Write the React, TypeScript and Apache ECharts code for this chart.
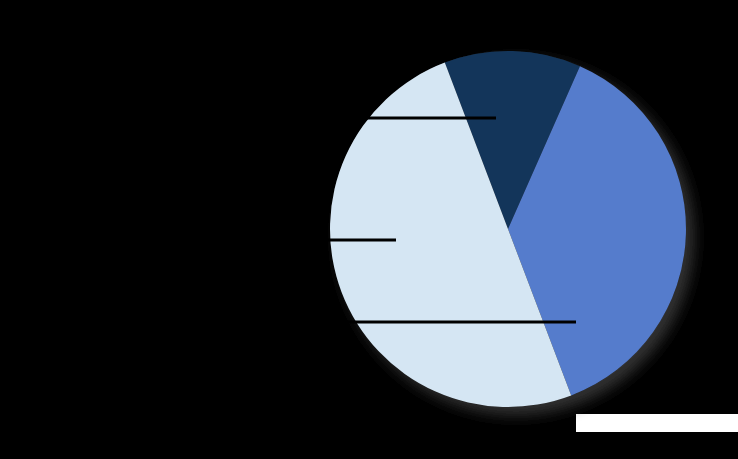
import React, { useEffect, useRef } from "react";
import * as echarts from "echarts";

const categories = ["Segment A", "Segment B", "Segment C"];
const values = [12.4, 37.6, 50];
const colors = ["#13355A", "#557CCC", "#D5E6F3"];

// leader line style constants (rows and inner end points)
const leaderY = [118, 322, 240];
const leaderEndX = [496, 576, 396];
const leaderStartX = 200;

export default function App() {
  const ref = useRef<HTMLDivElement>(null);
  useEffect(() => {
    const chart = echarts.init(ref.current!, null, { renderer: "svg" });
    chart.setOption({
      animation: false,
      backgroundColor: "#000000",
      graphic: [
        {
          type: "rect",
          shape: { x: 576, y: 414, width: 162, height: 18 },
          style: { fill: "#ffffff" },
          z: 0,
        },
        ...leaderY.map((y, i) => ({
          type: "line",
          shape: { x1: leaderStartX, y1: y, x2: leaderEndX[i], y2: y },
          style: { stroke: "#000000", lineWidth: 3 },
          z: 100,
        })),
      ],
      series: [
        {
          type: "pie",
          name: "shadow",
          silent: true,
          z: 1,
          center: [508, 229],
          radius: 178,
          label: { show: false },
          labelLine: { show: false },
          data: [{ value: 1, name: "", itemStyle: { color: "#1a1a1a" } }],
          itemStyle: {
            shadowBlur: 14,
            shadowColor: "rgba(50,50,50,1)",
            shadowOffsetX: 8,
            shadowOffsetY: 8,
          },
          emphasis: { disabled: true },
        },
        {
          type: "pie",
          z: 2,
          center: [508, 229],
          radius: 178,
          startAngle: 110.8,
          clockwise: true,
          data: categories.map((name, i) => ({
            name,
            value: values[i],
            itemStyle: { color: colors[i] },
          })),
          itemStyle: { borderWidth: 0 },
          label: { show: false },
          labelLine: { show: false },
          emphasis: { disabled: true },
        },
      ],
    });
    return () => chart.dispose();
  }, []);
  return (
    <div
      ref={ref}
      style={{ position: "absolute", left: 0, top: 0, width: 738, height: 459 }}
    />
  );
}
